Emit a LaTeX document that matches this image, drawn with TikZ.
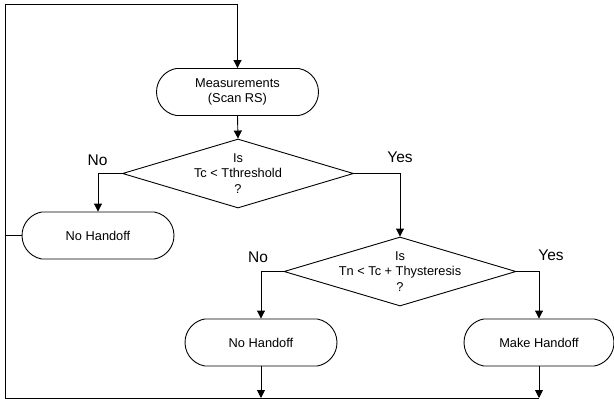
\documentclass[tikz,border=0pt]{standalone}
\usepackage{fontspec}
\setmainfont{Liberation Sans}
\usetikzlibrary{shapes.misc,shapes.geometric,arrows.meta}
\begin{document}
\begin{tikzpicture}[x=1pt,y=-1pt,
  every node/.style={font=\fontsize{12.8}{15.5}\selectfont},
  ln/.style={line width=0.9pt, draw=black},
  term/.style={ln, rounded rectangle, rounded rectangle arc length=160,
    minimum height=47pt, inner sep=0pt, align=center},
  dec/.style={ln, diamond, inner sep=0pt, minimum width=231pt, minimum height=69pt},
  dtext/.style={align=center, inner sep=0pt},
  yn/.style={font=\fontsize{15.5}{18}\selectfont, inner sep=0pt},
  arr/.style={ln, -{Triangle[length=8pt,width=8pt]}}
]
\useasboundingbox (0,0) rectangle (614,399);

\node[term, minimum width=162pt] (meas) at (237.5,92) {Measurements\\(Scan RS)};
\node[dec] (d1) at (238,173.5) {};
\node[dtext] (d1t) at (238,173.5) {Is\\Tc < Tthreshold\\?};
\node[term, minimum width=152pt] (nh1) at (98,235.5) {No Handoff};
\node[dec, minimum width=232pt] (d2) at (400,271.5) {};
\node[dtext] (d2t) at (400,271.5) {Is\\Tn < Tc + Thysteresis\\?};
\node[term, minimum width=152pt] (nh2) at (261,342.5) {No Handoff};
\node[term, minimum width=150pt] (mh) at (539,342.5) {Make Handoff};

\node[yn] (no1) at (97.5,160) {No};
\node[yn] (yes1) at (400,157) {Yes};
\node[yn] (no2) at (258,257) {No};
\node[yn] (yes2) at (551,255) {Yes};

\coordinate (tl) at (5,4);
\coordinate (bl) at (5,398);
\coordinate (br) at (539,398);

\draw[arr] (bl) -- (tl) -| (meas.north);
\draw[ln] (bl) -- (br);
\draw[ln] (nh1.west) -- (nh1.west -| tl);
\draw[arr] (meas.south) -- (d1.north);
\draw[arr] (d1.west) -| (nh1.north);
\draw[arr] (d1.east) -| (d2.north);
\draw[arr] (d2.west) -| (nh2.north);
\draw[arr] (d2.east) -| (mh.north);
\draw[arr] (nh2.south) -- (nh2.south |- bl);
\draw[arr] (mh.south) -- (br);
\end{tikzpicture}
\end{document}
